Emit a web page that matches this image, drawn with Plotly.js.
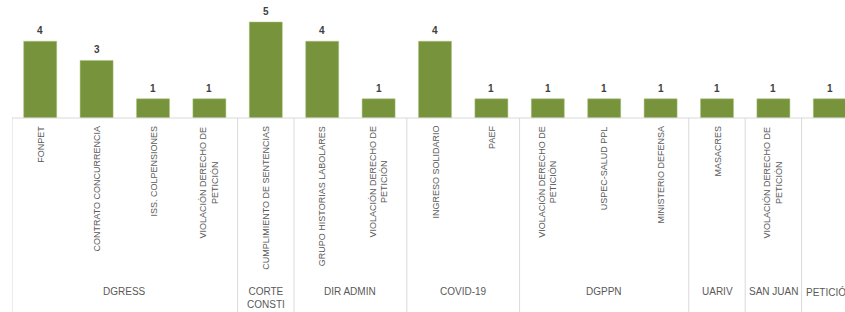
<!DOCTYPE html>
<html><head><meta charset="utf-8">
<script src="https://cdn.plot.ly/plotly-3.0.1.min.js"></script>
<style>html,body{margin:0;padding:0;overflow:hidden;background:#fff}#chart{width:845px;height:312px}</style>
</head><body><div id="chart"></div>
<script>
const categories = ["FONPET","CONTRATO CONCURRENCIA","ISS. COLPENSIONES","VIOLACIÓN DERECHO DE<br>PETICIÓN","CUMPLIMIENTO DE SENTENCIAS","GRUPO HISTORIAS LABOLARES","VIOLACIÓN DERECHO DE<br>PETICIÓN","INGRESO SOLIDARIO","PAEF","VIOLACIÓN DERECHO DE<br>PETICIÓN","USPEC-SALUD PPL","MINISTERIO DEFENSA","MASACRES","VIOLACIÓN DERECHO DE<br>PETICIÓN",""];
const groups = ["DGRESS","DGRESS","DGRESS","DGRESS","CORTE<br>CONSTI","DIR ADMIN","DIR ADMIN","COVID-19","COVID-19","DGPPN","DGPPN","DGPPN","UARIV","SAN JUAN","PETICIÓN"];
const values = [4,3,1,1,5,4,1,4,1,1,1,1,1,1,1];

const W = 845, H = 312, ML = 12, PH = 118;
const catW = 56.4;
const PW = W - ML;
const xmax = -0.5 + PW / catW;
const pyToPaper = py => 1 - py / PH;
const idx = categories.map((_, i) => i);

const annotations = [];
// value labels
values.forEach((v, i) => annotations.push({
  x: i, y: v, xref: 'x', yref: 'y', text: String(v), showarrow: false,
  yanchor: 'bottom', yshift: 3, font: {family: 'Liberation Sans, Arial', size: 10, color: '#404040', weight: 'bold'}
}));
// category labels
categories.forEach((c, i) => { if (c) annotations.push({
  x: i, y: pyToPaper(125), xref: 'x', yref: 'paper', text: c, showarrow: false,
  textangle: -90, yanchor: 'top', xanchor: 'center', align: 'center', borderpad: 0,
  font: {family: 'Liberation Sans, Arial', size: 9, color: '#595959'}
}); });
// group labels and dividers
const shapes = [];
const lineColor = '#D9D9D9';
let start = 0;
for (let i = 1; i <= groups.length; i++) {
  if (i === groups.length || groups[i] !== groups[start]) {
    annotations.push({
      x: (start + i - 1) / 2, y: pyToPaper(285), xref: 'x', yref: 'paper', text: groups[start],
      showarrow: false, yanchor: 'top', xanchor: 'center', align: 'center', borderpad: 0,
      font: {family: 'Liberation Sans, Arial', size: 10, color: '#595959'}
    });
    start = i;
  }
}
const bounds = [-0.5];
for (let i = 1; i < groups.length; i++) if (groups[i] !== groups[i-1]) bounds.push(i - 0.5);
bounds.forEach(b => shapes.push({type: 'line', xref: 'x', yref: 'paper', x0: b, x1: b,
  y0: pyToPaper(PH), y1: pyToPaper(H + 5), line: {color: lineColor, width: 1}}));
shapes.push({type: 'line', xref: 'paper', yref: 'paper', x0: 0, x1: 1, y0: 0, y1: 0, line: {color: lineColor, width: 1}});

const trace = {
  type: 'bar', x: idx, y: values, width: 0.585,
  marker: {color: '#77933C', line: {color: '#A9C47F', width: 0.5}},
  hoverinfo: 'skip'
};
const layout = {
  width: W, height: H,
  margin: {l: ML, r: 0, t: 0, b: H - PH, pad: 0},
  paper_bgcolor: '#fff', plot_bgcolor: '#fff',
  showlegend: false,
  xaxis: {range: [-0.5, xmax], showticklabels: false, showgrid: false, zeroline: false, showline: false, ticks: '', fixedrange: true},
  yaxis: {range: [0, PH / 19.2], visible: false, fixedrange: true},
  annotations, shapes
};
Plotly.newPlot('chart', [trace], layout, {displayModeBar: false, staticPlot: true});
</script></body></html>
